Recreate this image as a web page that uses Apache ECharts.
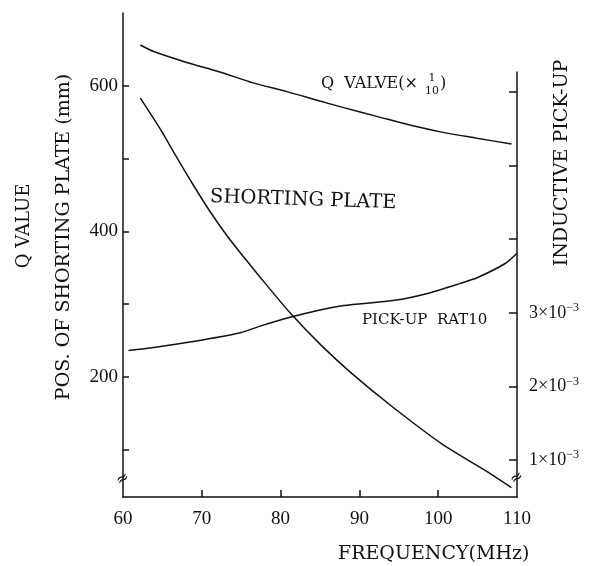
<!DOCTYPE html>
<html>
<head>
<meta charset="utf-8">
<script src="https://cdn.jsdelivr.net/npm/echarts@6/dist/echarts.min.js"></script>
<style>html,body{margin:0;padding:0;background:#fff}#c{width:604px;height:566px}</style>
</head>
<body>
<div id="c"></div>
<script>
// Data
const freqQ = [62.2, 63.9, 68.1, 72.3, 76.5, 80.8, 85.0, 88.0, 92.2, 96.4, 100.6, 104.9, 109.3];
const qValue = [656, 647, 632, 619, 604, 592, 579, 570, 558, 546, 536, 528, 520];

const freqShort = [62.2, 64.7, 66.8, 68.9, 71.0, 73.2, 75.3, 77.4, 81.2, 85.0, 88.8, 94.3, 100.6, 106.2, 109.3];
const shortPos = [583, 541, 502, 464, 428, 394, 365, 337, 288, 245, 207, 158, 107, 70, 48];

const freqPick = [60.7, 63.9, 68.9, 74.9, 77.4, 81.2, 85.0, 88.0, 94.5, 98.5, 102.8, 105.0, 108.5, 110.0];
const pickup = [2.49, 2.53, 2.61, 2.73, 2.82, 2.94, 3.04, 3.10, 3.17, 3.26, 3.40, 3.48, 3.67, 3.81]; // ×10^-3

const xTicks = [70, 80, 90, 100];
const xLabels = [60, 70, 80, 90, 100, 110];
const leftTicks = [100, 200, 300, 400, 500, 600];
const leftLabels = [200, 400, 600];
const rightTicks = [1, 2, 3, 4, 5, 6];
const rightLabels = [1, 2, 3];

const zip = (a, b) => a.map((v, i) => [v, b[i]]);
const SERIF = 'DejaVu Serif';
const NUM = 'Liberation Serif';
const lineStyle = { color: '#111', width: 1.5 };

const chart = echarts.init(document.getElementById('c'), null, { renderer: 'canvas' });
chart.setOption({
  animation: false,
  backgroundColor: '#fff',
  grid: [
    { left: 123, right: 87, top: 13, bottom: 69 },
    { left: 123, right: 87, top: 72, bottom: 69 }
  ],
  xAxis: [
    {
      gridIndex: 0, type: 'value', min: 60, max: 110, interval: 10,
      axisLine: { lineStyle: lineStyle },
      axisTick: { inside: true, length: 7, lineStyle: lineStyle, customValues: xTicks },
      axisLabel: { color: '#111', fontFamily: NUM, fontSize: 19, margin: 13, customValues: xLabels },
      splitLine: { show: false }
    },
    {
      gridIndex: 1, type: 'value', min: 60, max: 110, show: false,
      splitLine: { show: false }
    }
  ],
  yAxis: [
    {
      gridIndex: 0, type: 'value', min: 35, max: 700,
      axisLine: { show: true, lineStyle: lineStyle },
      axisTick: { show: true, inside: true, length: 6, lineStyle: lineStyle, customValues: leftTicks },
      axisLabel: { color: '#111', fontFamily: NUM, fontSize: 19, margin: 5, customValues: leftLabels },
      splitLine: { show: false }
    },
    {
      gridIndex: 1, type: 'value', position: 'right', min: 0.5, max: 6.27,
      axisLine: { show: true, lineStyle: lineStyle },
      axisTick: { show: true, inside: true, length: 8, lineStyle: lineStyle, customValues: rightTicks },
      axisLabel: {
        color: '#111', margin: 12, customValues: rightLabels,
        formatter: v => '{b|' + v + '×10}{s|−3}',
        rich: {
          b: { fontFamily: NUM, fontSize: 18, color: '#111' },
          s: { fontFamily: NUM, fontSize: 12, color: '#111', padding: [0, 0, 10, 0] }
        }
      },
      splitLine: { show: false }
    }
  ],
  series: [
    { name: 'Q value', type: 'line', xAxisIndex: 0, yAxisIndex: 0, data: zip(freqQ, qValue),
      smooth: 0.25, showSymbol: false, lineStyle: lineStyle },
    { name: 'Shorting plate', type: 'line', xAxisIndex: 0, yAxisIndex: 0, data: zip(freqShort, shortPos),
      smooth: 0.25, showSymbol: false, lineStyle: lineStyle },
    { name: 'Pick-up ratio', type: 'line', xAxisIndex: 1, yAxisIndex: 1, data: zip(freqPick, pickup),
      smooth: 0.25, showSymbol: false, lineStyle: lineStyle }
  ],
  graphic: [
    { type: 'text', x: 24, y: 226, rotation: Math.PI / 2,
      style: { text: 'Q VALUE', font: '18px "' + SERIF + '"', fill: '#111', align: 'center', verticalAlign: 'middle' } },
    { type: 'text', x: 64, y: 237, rotation: Math.PI / 2,
      style: { text: 'POS. OF SHORTING PLATE (mm)', font: '19px "' + SERIF + '"', fill: '#111', align: 'center', verticalAlign: 'middle' } },
    { type: 'text', x: 562, y: 163, rotation: Math.PI / 2,
      style: { text: 'INDUCTIVE PICK-UP', font: '19px "' + SERIF + '"', fill: '#111', align: 'center', verticalAlign: 'middle' } },
    { type: 'text', x: 338, y: 554,
      style: { text: 'FREQUENCY(MHz)', font: '19px "' + SERIF + '"', fill: '#111', align: 'left', verticalAlign: 'middle' } },
    { type: 'text', x: 210, y: 197, rotation: -0.033,
      style: { text: 'SHORTING PLATE', font: '19.5px "' + SERIF + '"', fill: '#111', align: 'left', verticalAlign: 'middle' } },
    { type: 'text', x: 362, y: 320,
      style: { text: 'PICK-UP  RAT10', font: '15px "' + SERIF + '"', fill: '#111', align: 'left', verticalAlign: 'middle' } },
    { type: 'text', x: 321, y: 84,
      style: { text: 'Q  VALVE(×', font: '16px "' + SERIF + '"', fill: '#111', align: 'left', verticalAlign: 'middle' } },
    { type: 'text', x: 432, y: 78,
      style: { text: '1', font: '11px "' + SERIF + '"', fill: '#111', align: 'center', verticalAlign: 'middle' } },
    { type: 'text', x: 432, y: 91,
      style: { text: '10', font: '11px "' + SERIF + '"', fill: '#111', align: 'center', verticalAlign: 'middle' } },
    { type: 'text', x: 440, y: 84,
      style: { text: ')', font: '16px "' + SERIF + '"', fill: '#111', align: 'left', verticalAlign: 'middle' } },
    { type: 'text', x: 123, y: 479, rotation: 0.6,
      style: { text: '≈', font: '16px "' + SERIF + '"', fill: '#111', align: 'center', verticalAlign: 'middle' } },
    { type: 'text', x: 517, y: 478, rotation: 0.6,
      style: { text: '≈', font: '16px "' + SERIF + '"', fill: '#111', align: 'center', verticalAlign: 'middle' } }
  ]
});
</script>
</body>
</html>
